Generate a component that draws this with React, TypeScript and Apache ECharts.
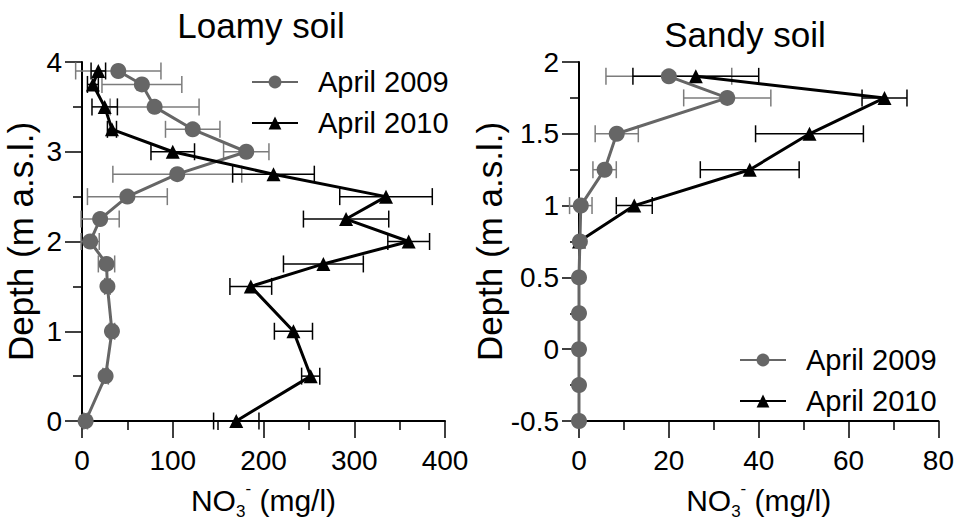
import React, { useEffect, useRef } from 'react';
import * as echarts from 'echarts';

// Loamy soil
const loamyDepth2009 = [3.9, 3.75, 3.5, 3.25, 3.0, 2.75, 2.5, 2.25, 2.0, 1.75, 1.5, 1.0, 0.5, 0];
const loamyNO3_2009 = [40, 66, 80, 122, 181, 105, 50, 20, 9, 27, 28, 33, 26, 4];
const loamyErr2009 = [47, 44, 49, 30, 25, 71, 44, 21, 10, 9, 3, 3, 3, 2];

const loamyDepth2010 = [3.9, 3.75, 3.5, 3.25, 3.0, 2.75, 2.5, 2.25, 2.0, 1.75, 1.5, 1.0, 0.5, 0];
const loamyNO3_2010 = [18, 12, 25, 33, 100, 211, 335, 291, 360, 266, 186, 233, 252, 170];
const loamyErr2010 = [8, 6, 14, 5, 24, 45, 51, 47, 23, 44, 23, 21, 10, 25];

// Sandy soil
const sandyDepth2009 = [1.9, 1.75, 1.5, 1.25, 1.0, 0.75, 0.5, 0.25, 0, -0.25, -0.5];
const sandyNO3_2009 = [20, 33, 8.4, 5.7, 0.4, 0.2, 0, 0, 0, 0, 0];
const sandyErr2009 = [14, 9.7, 4.8, 2.6, 2.5, 0, 0, 0, 0, 0, 0];

const sandyDepth2010 = [1.9, 1.75, 1.5, 1.25, 1.0, 0.75];
const sandyNO3_2010 = [26, 68, 51.3, 38, 12.3, 0];
const sandyErr2010 = [14, 5, 12, 11, 4, 0];

const seriesNames = ['April 2009', 'April 2010'];
const titles = ['Loamy soil', 'Sandy soil'];

const FONT = "'Liberation Sans', Arial, sans-serif";
const NARROW = "'Liberation Sans Narrow', 'Arial Narrow', 'Liberation Sans', sans-serif";
const GRAY = '#666666';
const GRAY_ERR = '#7c7c7c';

const pts = (vals: number[], depths: number[]) => vals.map((v, i) => [v, depths[i]]);
const errPts = (vals: number[], depths: number[], errs: number[]) =>
  vals.map((v, i) => [v, depths[i], errs[i]]).filter((d) => d[2] > 0);

const errRender = (color: string) => (params: any, api: any) => {
  const x = api.value(0);
  const y = api.value(1);
  const e = api.value(2);
  const a = api.coord([x - e, y]);
  const b = api.coord([x + e, y]);
  const h = 8.5;
  const style = { stroke: color, lineWidth: 1.5 };
  return {
    type: 'group',
    children: [
      { type: 'line', shape: { x1: a[0], y1: a[1], x2: b[0], y2: b[1] }, style },
      { type: 'line', shape: { x1: a[0], y1: a[1] - h, x2: a[0], y2: a[1] + h }, style },
      { type: 'line', shape: { x1: b[0], y1: b[1] - h, x2: b[0], y2: b[1] + h }, style },
    ],
  };
};

const xName = '{a|NO}{b|3}{c|-}{a| (mg/l)}';
const xNameRich = {
  a: { fontSize: 30, fontFamily: FONT, color: '#000', lineHeight: 40 },
  b: { fontSize: 17, fontFamily: FONT, color: '#000', lineHeight: 17, verticalAlign: 'bottom' },
  c: { fontSize: 17, fontFamily: FONT, color: '#000', lineHeight: 17, verticalAlign: 'top' },
};

const makeX = (gridIndex: number, max: number, interval: number) => ({
  type: 'value',
  gridIndex,
  min: 0,
  max,
  interval,
  name: xName,
  nameLocation: 'middle',
  nameGap: 59,
  nameTextStyle: { rich: xNameRich },
  axisLine: { show: true, onZero: false, lineStyle: { color: '#000', width: 2 } },
  axisTick: { show: true, length: 17, lineStyle: { color: '#000', width: 1.5 } },
  minorTick: { show: true, splitNumber: 2, length: 9, lineStyle: { color: '#000', width: 1.5 } },
  splitLine: { show: false },
  axisLabel: { color: '#000', fontSize: 28, fontFamily: NARROW, margin: 25 },
});

const makeY = (gridIndex: number, min: number, max: number, interval: number, nameGap: number) => ({
  type: 'value',
  gridIndex,
  min,
  max,
  interval,
  name: 'Depth (m a.s.l.)',
  nameLocation: 'middle',
  nameGap,
  nameRotate: 90,
  nameTextStyle: { color: '#000', fontSize: 35, fontFamily: FONT },
  axisLine: { show: true, onZero: false, lineStyle: { color: '#000', width: 2 } },
  axisTick: { show: true, length: 17, lineStyle: { color: '#000', width: 1.5 } },
  minorTick: { show: true, splitNumber: 2, length: 9, lineStyle: { color: '#000', width: 1.5 } },
  splitLine: { show: false },
  axisLabel: { color: '#000', fontSize: 28, fontFamily: NARROW, margin: 20 },
});

const grayLine = (name: string, xi: number, data: number[][], z: number) => ({
  type: 'line',
  name,
  xAxisIndex: xi,
  yAxisIndex: xi,
  data,
  symbol: 'circle',
  symbolSize: 16,
  z,
  itemStyle: { color: GRAY },
  lineStyle: { color: GRAY, width: 3 },
});

const blackLine = (name: string, xi: number, data: number[][], z: number) => ({
  type: 'line',
  name,
  xAxisIndex: xi,
  yAxisIndex: xi,
  data,
  symbol: 'triangle',
  symbolSize: 14,
  z,
  itemStyle: { color: '#000' },
  lineStyle: { color: '#000', width: 3 },
});

const errSeries = (xi: number, data: number[][], color: string) => ({
  type: 'custom',
  xAxisIndex: xi,
  yAxisIndex: xi,
  data,
  z: 1,
  clip: false,
  encode: { x: 0, y: 1 },
  renderItem: errRender(color),
});

export default function App() {
  const ref = useRef<HTMLDivElement>(null);
  useEffect(() => {
    if (!ref.current) return;
    const chart = echarts.init(ref.current, undefined, { renderer: 'svg' });
    const legendCommon = {
      data: seriesNames,
      orient: 'vertical',
      padding: 0,
      itemWidth: 46,
      itemHeight: 16,
      itemGap: 11,
      textStyle: { color: '#000', fontSize: 29, fontFamily: FONT, lineHeight: 30, padding: [0, 0, 0, 15] },
    };
    chart.setOption({
      animation: false,
      backgroundColor: '#fff',
      graphic: [
        { type: 'text', x: 261, y: 25, style: { text: titles[0], fontSize: 35, fontFamily: FONT, fill: '#000', textAlign: 'center', textVerticalAlign: 'middle' } },
        { type: 'text', x: 745, y: 34, style: { text: titles[1], fontSize: 35, fontFamily: FONT, fill: '#000', textAlign: 'center', textVerticalAlign: 'middle' } },
      ],
      legend: [
        { ...legendCommon, left: 251, top: 67 },
        { ...legendCommon, left: 739, top: 345 },
      ],
      grid: [
        { left: 82, top: 62, width: 363, height: 370 },
        { left: 579, top: 62, width: 363, height: 370 },
      ],
      xAxis: [makeX(0, 400, 100), makeX(1, 80, 20)],
      yAxis: [makeY(0, 0, 4, 1, 44), makeY(1, -0.5, 2, 0.5, 47)],
      series: [
        errSeries(0, errPts(loamyNO3_2009, loamyDepth2009, loamyErr2009), GRAY_ERR),
        errSeries(0, errPts(loamyNO3_2010, loamyDepth2010, loamyErr2010), '#000'),
        grayLine(seriesNames[0], 0, pts(loamyNO3_2009, loamyDepth2009), 2),
        blackLine(seriesNames[1], 0, pts(loamyNO3_2010, loamyDepth2010), 3),
        errSeries(1, errPts(sandyNO3_2009, sandyDepth2009, sandyErr2009), GRAY_ERR),
        errSeries(1, errPts(sandyNO3_2010, sandyDepth2010, sandyErr2010), '#000'),
        blackLine(seriesNames[1], 1, pts(sandyNO3_2010, sandyDepth2010), 2),
        grayLine(seriesNames[0], 1, pts(sandyNO3_2009, sandyDepth2009), 3),
      ],
    });
    return () => chart.dispose();
  }, []);
  return (
    <div
      ref={ref}
      style={{ position: 'fixed', left: 0, top: 0, width: 957, height: 525, background: '#fff' }}
    />
  );
}
